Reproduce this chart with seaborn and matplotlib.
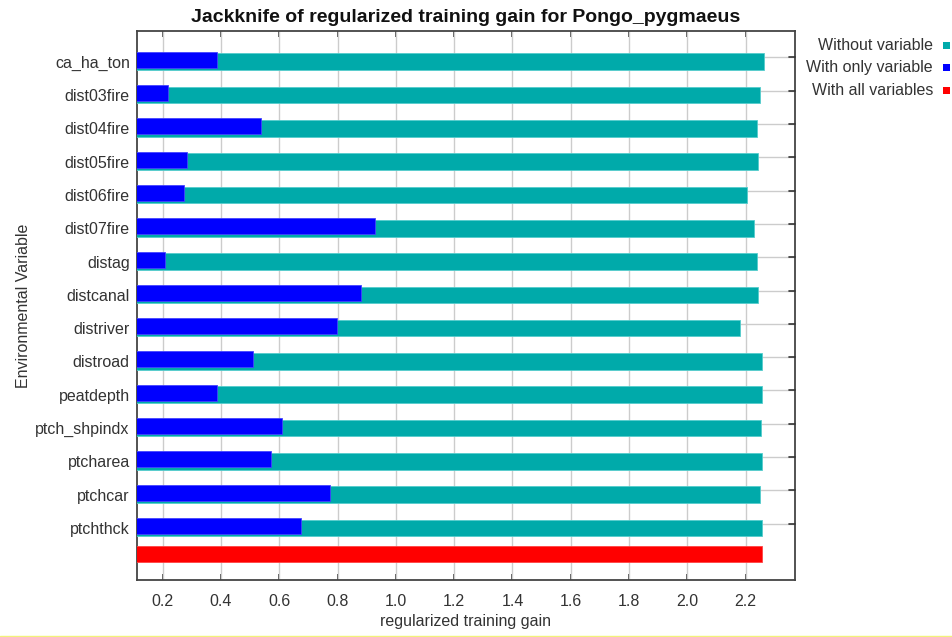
import matplotlib
matplotlib.use("Agg")
import matplotlib.pyplot as plt
from matplotlib.lines import Line2D
from matplotlib.patches import Rectangle
import seaborn as sns
import pandas as pd
import numpy as np

# Jackknife results (regularized training gain)
variables = ["ca_ha_ton", "dist03fire", "dist04fire", "dist05fire", "dist06fire",
             "dist07fire", "distag", "distcanal", "distriver", "distroad",
             "peatdepth", "ptch_shpindx", "ptcharea", "ptchcar", "ptchthck"]
without_variable = [2.263, 2.248, 2.238, 2.243, 2.205, 2.229, 2.238, 2.243,
                    2.181, 2.257, 2.257, 2.252, 2.257, 2.248, 2.257]
with_only_variable = [0.387, 0.217, 0.538, 0.283, 0.274, 0.929, 0.208, 0.881,
                      0.797, 0.509, 0.387, 0.609, 0.571, 0.773, 0.674]
with_all_variables = 2.257

x_ticks = [0.2, 0.4, 0.6, 0.8, 1.0, 1.2, 1.4, 1.6, 1.8, 2.0, 2.2]

legend_labels = ["Without variable", "With only variable", "With all variables"]
TEAL, BLUE, RED = "#00AAAA", "#0000FF", "#FF0000"
TXT = "#333333"

sns.set_style("white")
plt.rcParams["font.family"] = ["Liberation Sans", "DejaVu Sans"]

rows = np.arange(len(variables))
df_without = pd.DataFrame({"gain": without_variable, "pos": rows + 0.0})
df_only = pd.DataFrame({"gain": with_only_variable, "pos": rows - 0.06})
df_all = pd.DataFrame({"gain": [with_all_variables], "pos": [len(variables) - 0.22]})

fig = plt.figure(figsize=(9.52, 6.37), dpi=100)
ax = fig.add_axes([136.7 / 952, 1 - 580 / 637, (795 - 136.7) / 952, (580 - 31) / 637])

sns.barplot(data=df_without, x="gain", y="pos", orient="y", native_scale=True,
            color=TEAL, saturation=1, width=0.5, ax=ax,
            edgecolor="#55CCCC", linewidth=0.6, zorder=3)
sns.barplot(data=df_only, x="gain", y="pos", orient="y", native_scale=True,
            color=BLUE, saturation=1, width=0.48, ax=ax,
            edgecolor="#4444FF", linewidth=0.6, zorder=4)
sns.barplot(data=df_all, x="gain", y="pos", orient="y", native_scale=True,
            color=RED, saturation=1, width=0.48, ax=ax,
            edgecolor="#FF4444", linewidth=0.6, zorder=3)

ax.set_xlim(0.111, 2.369)
ax.set_ylim(15.56, -0.92)

# vertical grid + ticks on top and bottom
ax.set_xticks(x_ticks)
ax.set_xticklabels([f"{v:.1f}" for v in x_ticks], color=TXT, fontsize=11.5)
for v in x_ticks:
    ax.axvline(v, color="#cccccc", lw=1.0, zorder=1)
ax.tick_params(axis="x", direction="in", length=4, width=1.2, color="#333333",
               top=True, bottom=True, pad=10)

# category labels at bar centres, grid lines slightly above
ax.set_yticks(rows)
ax.set_yticklabels(variables, color=TXT, fontsize=11.5)
ax.tick_params(axis="y", length=0, pad=5)
grid_pos = rows - 0.13
for g in grid_pos:
    ax.axhline(g, color="#cccccc", lw=1.0, zorder=1)
    ax.plot([2.369 - 0.022, 2.369], [g, g], color="#333333", lw=1.2,
            zorder=5, clip_on=False)

for s in ax.spines.values():
    s.set_color("#444444")
    s.set_linewidth(1.3)
    s.set_visible(True)

ax.set_xlabel("regularized training gain", color=TXT, fontsize=11.5, labelpad=4)
ax.set_ylabel("Environmental Variable", color=TXT, fontsize=11.5, labelpad=3)

fig.text(466 / 952, 1 - 18 / 637, "Jackknife of regularized training gain for Pongo_pygmaeus",
         ha="center", va="center", fontsize=14, fontweight="bold", color="#111111",
         family=["Liberation Sans Narrow", "Liberation Sans", "DejaVu Sans"])

# legend at top right: text right-aligned, colour square after it
for i, (lab, col) in enumerate(zip(legend_labels, [TEAL, BLUE, RED])):
    yc = 45.5 + 22.3 * i
    fig.text(933 / 952, 1 - yc / 637, lab, ha="right", va="center",
             fontsize=11.5, color=TXT)
    fig.patches.append(Rectangle(((943) / 952, 1 - (yc + 3.5) / 637), 7 / 952, 7 / 637,
                                 transform=fig.transFigure, facecolor=col,
                                 edgecolor="none"))

fig.lines.append(Line2D([0, 1], [1 - 635.5 / 637] * 2, transform=fig.transFigure,
                        color="#f2f27a", lw=1.0))

fig.savefig("out.png", dpi=100, facecolor="white")
